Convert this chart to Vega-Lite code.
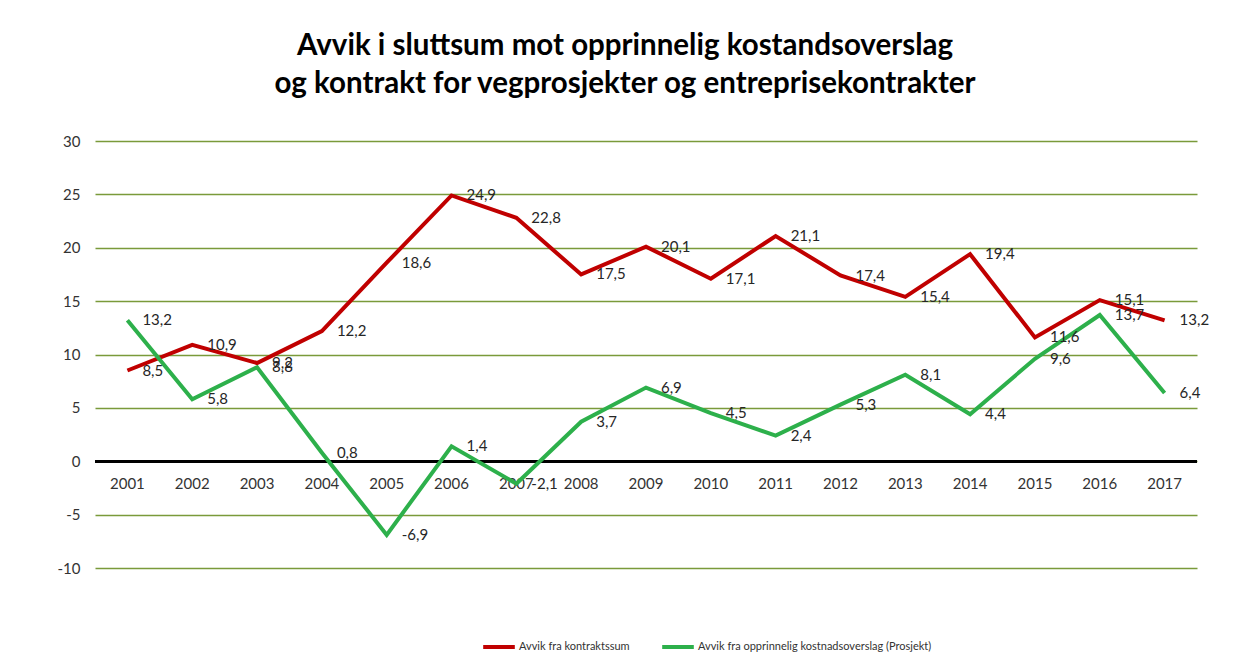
{
  "$schema": "https://vega.github.io/schema/vega-lite/v6.json",
  "width": 1102,
  "height": 427,
  "autosize": {"type": "none"},
  "padding": {"left": 95, "top": 141, "right": 52, "bottom": 100},
  "background": "white",
  "title": {
    "text": ["Avvik i sluttsum mot opprinnelig kostandsoverslag", "og kontrakt for vegprosjekter og entreprisekontrakter"],
    "font": "Lato",
    "fontSize": 29.5,
    "fontWeight": "bold",
    "color": "#000000",
    "anchor": "middle",
    "dx": -21,
    "offset": 35,
    "lineHeight": 38
  },
  "config": {
    "font": "Lato",
    "locale": {"number": {"decimal": ",", "thousands": " ", "grouping": [3], "currency": ["", " kr"], "minus": "-"}},
    "view": {"stroke": null}
  },
  "data": {
    "values": [
      {"serie": "Avvik fra kontraktssum", "aar": "2001", "verdi": 8.5},
      {"serie": "Avvik fra kontraktssum", "aar": "2002", "verdi": 10.9},
      {"serie": "Avvik fra kontraktssum", "aar": "2003", "verdi": 9.2},
      {"serie": "Avvik fra kontraktssum", "aar": "2004", "verdi": 12.2},
      {"serie": "Avvik fra kontraktssum", "aar": "2005", "verdi": 18.6},
      {"serie": "Avvik fra kontraktssum", "aar": "2006", "verdi": 24.9},
      {"serie": "Avvik fra kontraktssum", "aar": "2007", "verdi": 22.8},
      {"serie": "Avvik fra kontraktssum", "aar": "2008", "verdi": 17.5},
      {"serie": "Avvik fra kontraktssum", "aar": "2009", "verdi": 20.1},
      {"serie": "Avvik fra kontraktssum", "aar": "2010", "verdi": 17.1},
      {"serie": "Avvik fra kontraktssum", "aar": "2011", "verdi": 21.1},
      {"serie": "Avvik fra kontraktssum", "aar": "2012", "verdi": 17.4},
      {"serie": "Avvik fra kontraktssum", "aar": "2013", "verdi": 15.4},
      {"serie": "Avvik fra kontraktssum", "aar": "2014", "verdi": 19.4},
      {"serie": "Avvik fra kontraktssum", "aar": "2015", "verdi": 11.6},
      {"serie": "Avvik fra kontraktssum", "aar": "2016", "verdi": 15.1},
      {"serie": "Avvik fra kontraktssum", "aar": "2017", "verdi": 13.2},
      {"serie": "Avvik fra opprinnelig kostnadsoverslag (Prosjekt)", "aar": "2001", "verdi": 13.2},
      {"serie": "Avvik fra opprinnelig kostnadsoverslag (Prosjekt)", "aar": "2002", "verdi": 5.8},
      {"serie": "Avvik fra opprinnelig kostnadsoverslag (Prosjekt)", "aar": "2003", "verdi": 8.8},
      {"serie": "Avvik fra opprinnelig kostnadsoverslag (Prosjekt)", "aar": "2004", "verdi": 0.8},
      {"serie": "Avvik fra opprinnelig kostnadsoverslag (Prosjekt)", "aar": "2005", "verdi": -6.9},
      {"serie": "Avvik fra opprinnelig kostnadsoverslag (Prosjekt)", "aar": "2006", "verdi": 1.4},
      {"serie": "Avvik fra opprinnelig kostnadsoverslag (Prosjekt)", "aar": "2007", "verdi": -2.1},
      {"serie": "Avvik fra opprinnelig kostnadsoverslag (Prosjekt)", "aar": "2008", "verdi": 3.7},
      {"serie": "Avvik fra opprinnelig kostnadsoverslag (Prosjekt)", "aar": "2009", "verdi": 6.9},
      {"serie": "Avvik fra opprinnelig kostnadsoverslag (Prosjekt)", "aar": "2010", "verdi": 4.5},
      {"serie": "Avvik fra opprinnelig kostnadsoverslag (Prosjekt)", "aar": "2011", "verdi": 2.4},
      {"serie": "Avvik fra opprinnelig kostnadsoverslag (Prosjekt)", "aar": "2012", "verdi": 5.3},
      {"serie": "Avvik fra opprinnelig kostnadsoverslag (Prosjekt)", "aar": "2013", "verdi": 8.1},
      {"serie": "Avvik fra opprinnelig kostnadsoverslag (Prosjekt)", "aar": "2014", "verdi": 4.4},
      {"serie": "Avvik fra opprinnelig kostnadsoverslag (Prosjekt)", "aar": "2015", "verdi": 9.6},
      {"serie": "Avvik fra opprinnelig kostnadsoverslag (Prosjekt)", "aar": "2016", "verdi": 13.7},
      {"serie": "Avvik fra opprinnelig kostnadsoverslag (Prosjekt)", "aar": "2017", "verdi": 6.4}
    ]
  },
  "encoding": {
    "x": {"field": "aar", "type": "ordinal", "scale": {"type": "point", "padding": 0.5}, "axis": null}
  },
  "layer": [
    {
      "mark": {"type": "line", "opacity": 0},
      "encoding": {
        "y": {
          "field": "verdi", "type": "quantitative",
          "scale": {"domain": [-10, 30], "nice": false, "zero": false},
          "axis": {
            "title": null, "values": [-10, -5, 0, 5, 10, 15, 20, 25, 30],
            "domain": false, "ticks": false, "labelPadding": 15,
            "labelFontSize": 15, "labelColor": "#333333",
            "grid": true, "gridColor": "#7A9A3A", "gridWidth": 1.5,
            "format": "d"
          }
        }
      }
    },
    {
      "mark": {"type": "rule", "color": "#000000", "strokeWidth": 2.5},
      "encoding": {"y": {"datum": 0}, "x": null}
    },
    {
      "transform": [{"filter": "datum.serie === 'Avvik fra kontraktssum'"}],
      "mark": {"type": "text", "fontSize": 15, "color": "#333333", "baseline": "middle", "dy": 23},
      "encoding": {"y": {"datum": 0}, "text": {"field": "aar"}}
    },
    {
      "mark": {"type": "line", "strokeWidth": 4, "strokeJoin": "miter"},
      "encoding": {
        "y": {"field": "verdi", "type": "quantitative"},
        "color": {
          "field": "serie", "type": "nominal",
          "scale": {"domain": ["Avvik fra kontraktssum", "Avvik fra opprinnelig kostnadsoverslag (Prosjekt)"], "range": ["#C00000", "#2DB04B"]},
          "legend": {
            "title": null, "orient": "none", "direction": "horizontal",
            "legendX": 386, "legendY": 488,
            "symbolType": "stroke", "symbolSize": 1000, "symbolStrokeWidth": 4,
            "labelFontSize": 11, "labelColor": "#333333", "labelOffset": 2,
            "columnPadding": 24, "labelLimit": 400
          }
        }
      }
    },
    {
      "mark": {"type": "text", "fontSize": 15, "color": "#262626", "align": "left", "baseline": "middle", "dx": 15},
      "encoding": {
        "y": {"field": "verdi", "type": "quantitative"},
        "text": {"field": "verdi", "type": "quantitative", "format": ".1f"}
      }
    }
  ]
}
